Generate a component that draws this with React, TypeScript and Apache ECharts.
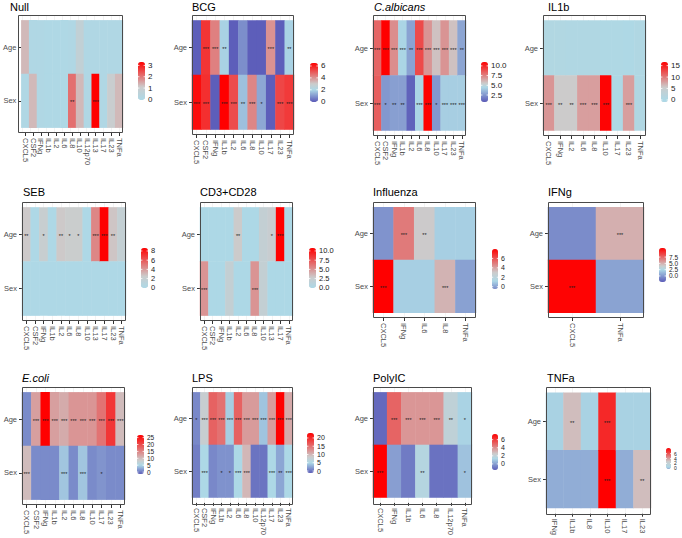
import React, { useEffect, useRef } from "react";
import * as echarts from "echarts";

// ---------------- DATA ----------------
const ROWS = ["Sex", "Age"];

// Null
const nullCats = ["CXCL5", "CSF2", "IFNg", "IL1b", "IL2", "IL6", "IL8", "IL10", "IL12p70", "IL13", "IL17", "IL23", "TNFa"];
const nullAge = [1.3, 0.1, 0.1, 0.05, 0.05, 0.05, 0.1, 0.7, 0.1, 0.1, 0.1, 0.1, 0.1];
const nullSex = [0.1, 1.3, 0.1, 0.05, 0.05, 0.05, 2.1, 1.3, 0.1, 3.3, 0.1, 1.0, 1.3];
const nullAgeSig = ["", "", "", "", "", "", "", "", "", "", "", "", ""];
const nullSexSig = ["", "", "", "", "", "", "**", "", "", "***", "", "", ""];
const nullRange = [-0.05, 3.3];
const nullTicks = ["0", "1", "2", "3"];

// BCG
const bcgCats = ["CXCL5", "CSF2", "IFNg", "IL1b", "IL2", "IL6", "IL8", "IL10", "IL17", "IL23", "TNFa"];
const bcgAge = [0, 5.6, 4.3, 1.9, 0, 0.8, 0, 0, 4.0, 0, 1.9];
const bcgSex = [6.3, 5.7, 0, 6.5, 5.2, 1.6, 4.2, 1.2, 0, 5.3, 5.5];
const bcgAgeSig = ["", "***", "***", "**", "", "", "", "", "***", "", "**"];
const bcgSexSig = ["***", "***", "", "***", "***", "**", "***", "*", "", "***", "***"];
const bcgRange = [-0.05, 6.5];
const bcgTicks = ["0", "2", "4", "6"];

// C.albicans
const calbCats = ["CXCL5", "CSF2", "IFNg", "IL1b", "IL2", "IL6", "IL8", "IL10", "IL17", "IL23", "TNFa"];
const calbAge = [8.3, 11.0, 7.2, 4.4, 2.9, 9.0, 7.0, 5.8, 7.0, 5.8, 3.0];
const calbSex = [8.5, 2.6, 2.8, 2.8, 1.0, 4.4, 11.0, 2.6, 4.2, 4.2, 4.2];
const calbAgeSig = ["***", "***", "***", "***", "**", "***", "***", "***", "***", "***", "**"];
const calbSexSig = ["***", "*", "**", "**", "", "***", "***", "*", "***", "***", "***"];
const calbRange = [0.7, 11.0];
const calbTicks = ["2.5", "5.0", "7.5", "10.0"];

// IL1b
const il1bCats = ["CXCL5", "IFNg", "IL2", "IL6", "IL8", "IL10", "IL17", "IL23", "TNFa"];
const il1bAge = [0.7, 0.7, 0.6, 0.6, 0.6, 0.4, 0.4, 0.3, 0.6];
const il1bSex = [8.5, 5.5, 5.5, 8.0, 8.0, 16.4, 0.3, 8.0, 0.6];
const il1bAgeSig = ["", "", "", "", "", "", "", "", ""];
const il1bSexSig = ["***", "**", "**", "***", "***", "***", "", "***", ""];
const il1bRange = [-0.9, 16.6];
const il1bTicks = ["0", "5", "10", "15"];

// SEB
const sebCats = ["CXCL5", "CSF2", "IFNg", "IL1b", "IL2", "IL6", "IL8", "IL10", "IL13", "IL17", "IL23", "TNFa"];
const sebAge = [2.6, 0, 2.1, 0, 2.6, 2.4, 2.4, 0, 4.6, 8.6, 2.7, 1.8];
const sebSex = [0, 0, 0, 0, 0, 0, 0, 0, 0, 0, 0, 0];
const sebAgeSig = ["**", "", "*", "", "**", "*", "*", "", "***", "***", "**", ""];
const sebSexSig = ["", "", "", "", "", "", "", "", "", "", "", ""];
const sebRange = [-0.05, 8.65];
const sebTicks = ["0", "2", "4", "6", "8"];

// CD3+CD28
const cdCats = ["CXCL5", "CSF2", "IFNg", "IL1b", "IL2", "IL6", "IL8", "IL10", "IL13", "IL17", "TNFa"];
const cdAge = [0, 0, 0, 0, 2.8, 0, 0, 2.0, 2.4, 10.8, 0];
const cdSex = [5.0, 0, 0, 2.0, 0, 0, 5.0, 2.0, 0, 0, 0];
const cdAgeSig = ["", "", "", "", "**", "", "", "", "*", "***", ""];
const cdSexSig = ["***", "", "", "", "", "", "***", "", "", "", ""];
const cdRange = [-0.05, 10.8];
const cdTicks = ["0.0", "2.5", "5.0", "7.5", "10.0"];

// Influenza
const fluCats = ["CXCL5", "IFNg", "IL6", "IL8", "TNFa"];
const fluAge = [-0.3, 5.0, 3.0, 1.0, 1.0];
const fluSex = [8.0, 1.0, 1.0, 3.6, 0.0];
const fluAgeSig = ["", "***", "**", "", ""];
const fluSexSig = ["***", "", "", "***", ""];
const fluRange = [-0.5, 8.0];
const fluTicks = ["0", "2", "4", "6"];

// IFNg
const ifngCats = ["CXCL5", "TNFa"];
const ifngAge = [-0.5, 5.0];
const ifngSex = [11.0, 0.4];
const ifngAgeSig = ["", "***"];
const ifngSexSig = ["***", ""];
const ifngRange = [-2.4, 11.1];
const ifngTicks = ["0.0", "2.5", "5.0", "7.5"];

// E.coli
const ecoliCats = ["CXCL5", "CSF2", "IFNg", "IL1b", "IL2", "IL6", "IL8", "IL10", "IL17", "IL23", "TNFa"];
const ecoliAge = [1.0, 12.5, 26.9, 12.5, 11.5, 13.5, 13.5, 13.5, 16.5, 22.0, 10.0];
const ecoliSex = [10.0, 1.0, 1.0, 1.0, 4.0, 1.0, 4.0, 1.0, 1.5, 1.0, 1.0];
const ecoliAgeSig = ["", "***", "***", "***", "***", "***", "***", "***", "***", "***", "***"];
const ecoliSexSig = ["***", "", "", "", "***", "", "***", "", "*", "", ""];
const ecoliRange = [-1.4, 26.9];
const ecoliTicks = ["0", "5", "10", "15", "20", "25"];

// LPS
const lpsCats = ["CXCL5", "CSF2", "IFNg", "IL1b", "IL2", "IL6", "IL8", "IL10", "IL12p70", "IL17", "IL23", "TNFa"];
const lpsAge = [1.0, 8.0, 16.0, 15.0, 4.5, 16.0, 12.0, 12.0, 4.0, 12.0, 23.0, 11.0];
const lpsSex = [0.5, 5.0, 1.0, 1.5, 1.5, 5.0, 10.0, 0.0, 0.0, 5.0, 2.5, 5.0];
const lpsAgeSig = ["*", "***", "***", "***", "***", "***", "***", "***", "***", "***", "***", "***"];
const lpsSexSig = ["", "***", "", "*", "*", "***", "***", "", "", "***", "**", "***"];
const lpsRange = [-1.2, 23.0];
const lpsTicks = ["0", "5", "10", "15", "20"];

// PolyIC
const polyCats = ["CXCL5", "IFNg", "IL1b", "IL6", "IL8", "IL12p70", "TNFa"];
const polyAge = [-1.2, 5.0, 3.8, 3.8, 3.8, 2.0, 1.2];
const polySex = [7.4, 0.0, -0.8, 1.6, -1.0, -1.0, 0.8];
const polyAgeSig = ["", "***", "***", "***", "***", "**", "*"];
const polySexSig = ["***", "", "", "**", "", "", "*"];
const polyRange = [-1.5, 7.4];
const polyTicks = ["0", "2", "4", "6"];

// TNFa
const tnfCats = ["IFNg", "IL1b", "IL8", "IL10", "IL17", "IL23"];
const tnfAge = [0.4, 3.2, 0.4, 7.2, 0.4, 0.4];
const tnfSex = [-0.2, -0.2, -0.2, 8.3, -0.2, 3.2];
const tnfAgeSig = ["", "**", "", "***", "", ""];
const tnfSexSig = ["", "", "", "***", "", "**"];
const tnfRange = [-0.25, 8.3];
const tnfTicks = ["0", "2", "4", "6"];

const PANELS = [
  { title: "Null", italic: false, cats: nullCats, age: nullAge, sex: nullSex, ageSig: nullAgeSig, sexSig: nullSexSig, range: nullRange, ticks: nullTicks },
  { title: "BCG", italic: false, cats: bcgCats, age: bcgAge, sex: bcgSex, ageSig: bcgAgeSig, sexSig: bcgSexSig, range: bcgRange, ticks: bcgTicks },
  { title: "C.albicans", italic: true, cats: calbCats, age: calbAge, sex: calbSex, ageSig: calbAgeSig, sexSig: calbSexSig, range: calbRange, ticks: calbTicks },
  { title: "IL1b", italic: false, cats: il1bCats, age: il1bAge, sex: il1bSex, ageSig: il1bAgeSig, sexSig: il1bSexSig, range: il1bRange, ticks: il1bTicks },
  { title: "SEB", italic: false, cats: sebCats, age: sebAge, sex: sebSex, ageSig: sebAgeSig, sexSig: sebSexSig, range: sebRange, ticks: sebTicks },
  { title: "CD3+CD28", italic: false, cats: cdCats, age: cdAge, sex: cdSex, ageSig: cdAgeSig, sexSig: cdSexSig, range: cdRange, ticks: cdTicks },
  { title: "Influenza", italic: false, cats: fluCats, age: fluAge, sex: fluSex, ageSig: fluAgeSig, sexSig: fluSexSig, range: fluRange, ticks: fluTicks },
  { title: "IFNg", italic: false, cats: ifngCats, age: ifngAge, sex: ifngSex, ageSig: ifngAgeSig, sexSig: ifngSexSig, range: ifngRange, ticks: ifngTicks },
  { title: "E.coli", italic: true, cats: ecoliCats, age: ecoliAge, sex: ecoliSex, ageSig: ecoliAgeSig, sexSig: ecoliSexSig, range: ecoliRange, ticks: ecoliTicks },
  { title: "LPS", italic: false, cats: lpsCats, age: lpsAge, sex: lpsSex, ageSig: lpsAgeSig, sexSig: lpsSexSig, range: lpsRange, ticks: lpsTicks },
  { title: "PolyIC", italic: false, cats: polyCats, age: polyAge, sex: polySex, ageSig: polyAgeSig, sexSig: polySexSig, range: polyRange, ticks: polyTicks },
  { title: "TNFa", italic: false, cats: tnfCats, age: tnfAge, sex: tnfSex, ageSig: tnfAgeSig, sexSig: tnfSexSig, range: tnfRange, ticks: tnfTicks },
];

// ---------------- STYLE / LAYOUT ----------------
const BLUE = "#5c5cb9";
const LB = "#add8e6";
const GREY = "#cccccc";
const RED = "#ff0000";

const STOPS: [number, string][][] = [
  [[0, LB], [1.1, GREY], [3.3, RED]],
  [[0, BLUE], [2, LB], [3, GREY], [6.5, RED]],
  [[0.8, BLUE], [4.5, LB], [5.5, GREY], [11, RED]],
  [[0, LB], [5.5, GREY], [16.6, RED]],
  [[0, LB], [2.5, GREY], [8.65, RED]],
  [[0, LB], [2.8, GREY], [10.8, RED]],
  [[-1.5, BLUE], [1.2, LB], [3, GREY], [8, RED]],
  [[-2.4, BLUE], [2.5, LB], [4, GREY], [11.1, RED]],
  [[-1.4, BLUE], [5, LB], [8.5, GREY], [26.9, RED]],
  [[-1.2, BLUE], [5, LB], [8.5, GREY], [23, RED]],
  [[-1.5, BLUE], [1.3, LB], [2.5, GREY], [7.4, RED]],
  [[-1.5, BLUE], [0.5, LB], [2.8, GREY], [8.3, RED]],
];

// frame [l,t,r,b], title [x,y], bar [x,y,w,h], legend font size
const LAYOUT = [
  { frame: [18, 15, 123, 133], title: [10, 1], bar: [138, 62, 7, 38], lf: 8 },
  { frame: [192, 15, 294, 135], title: [192, 1], bar: [310, 63, 8, 39], lf: 8 },
  { frame: [373, 15, 466, 136], title: [374, 1], bar: [481, 62, 7, 40], lf: 8 },
  { frame: [543, 15, 646, 136], title: [548, 1], bar: [661, 62, 7, 40], lf: 8 },
  { frame: [22, 202, 126, 321], title: [23, 186], bar: [141, 248, 7, 40], lf: 7.5 },
  { frame: [200, 202, 293, 321], title: [200, 186], bar: [309, 248, 7, 40], lf: 7.5 },
  { frame: [373, 202, 476, 318], title: [373, 186], bar: [492, 249, 6, 40], lf: 7 },
  { frame: [548, 202, 644, 318], title: [548, 186], bar: [659, 248, 7, 34], lf: 6.5 },
  { frame: [22, 387, 125, 505], title: [22, 372], bar: [137, 435, 7, 39], lf: 6.5 },
  { frame: [192, 387, 293, 505], title: [192, 372], bar: [307, 433, 7, 40], lf: 7 },
  { frame: [373, 387, 472, 505], title: [373, 372], bar: [492, 434, 6, 36], lf: 7 },
  { frame: [546, 387, 651, 515], title: [547, 372], bar: [666, 448, 5, 21], lf: 5 },
];

const FONT = "Liberation Sans, Arial, Helvetica, sans-serif";

function hexToRgb(h: string) {
  const n = parseInt(h.slice(1), 16);
  return [(n >> 16) & 255, (n >> 8) & 255, n & 255];
}
function colorAt(stops: [number, string][], v: number) {
  if (v <= stops[0][0]) return stops[0][1];
  for (let k = 1; k < stops.length; k++) {
    if (v <= stops[k][0]) {
      const [v0, c0] = stops[k - 1];
      const [v1, c1] = stops[k];
      const t = (v - v0) / (v1 - v0);
      const a = hexToRgb(c0), b = hexToRgb(c1);
      const m = a.map((x, i) => Math.round(x + (b[i] - x) * t));
      return `rgb(${m[0]},${m[1]},${m[2]})`;
    }
  }
  return stops[stops.length - 1][1];
}
function palette(stops: [number, string][], min: number, max: number) {
  const n = 48;
  const out: string[] = [];
  for (let k = 0; k < n; k++) out.push(colorAt(stops, min + ((max - min) * k) / (n - 1)));
  return out;
}

function buildOption() {
  const grid: any[] = [], xAxis: any[] = [], yAxis: any[] = [], series: any[] = [];
  const visualMap: any[] = [], title: any[] = [], graphic: any[] = [];

  PANELS.forEach((p, i) => {
    const L = LAYOUT[i];
    const [l, t, r, b] = L.frame;
    const w = r - l, h = b - t, pad = h / 22;
    grid.push({ left: l, top: t, width: w, height: h, show: false });
    grid.push({ left: l, top: t + pad, width: w, height: h - 2 * pad, show: false });

    xAxis.push({
      gridIndex: 2 * i, type: "category", data: p.cats,
      axisLine: { show: false }, axisTick: { show: false }, axisLabel: { show: false, interval: 0 },
      splitLine: { show: true, interval: 0, alignWithLabel: true, lineStyle: { color: "#ebebeb", width: 0.6 } },
    });
    yAxis.push({ gridIndex: 2 * i, type: "category", data: ROWS, show: false });

    xAxis.push({
      gridIndex: 2 * i + 1, type: "category", data: p.cats, position: "bottom", offset: pad,
      axisLine: { show: false },
      axisTick: { show: true, interval: 0, alignWithLabel: true, length: 3, lineStyle: { color: "#333333", width: 1 } },
      axisLabel: { interval: 0, rotate: -90, margin: 5, fontSize: 7.5, color: "#4d4d4d", fontFamily: FONT },
      splitLine: { show: false },
    });
    yAxis.push({
      gridIndex: 2 * i + 1, type: "category", data: ROWS,
      axisLine: { show: false },
      axisTick: { show: true, alignWithLabel: true, length: 3, lineStyle: { color: "#333333", width: 1 } },
      axisLabel: { margin: 5, fontSize: 7.5, color: "#4d4d4d", fontFamily: FONT },
      splitLine: { show: false },
    });

    const data: number[][] = [];
    const sigs: string[] = [];
    p.cats.forEach((_, j) => {
      data.push([j, 1, p.age[j]]);
      sigs.push(p.ageSig[j]);
      data.push([j, 0, p.sex[j]]);
      sigs.push(p.sexSig[j]);
    });
    series.push({
      type: "heatmap", xAxisIndex: 2 * i + 1, yAxisIndex: 2 * i + 1, data,
      itemStyle: { borderWidth: 0 },
      label: {
        show: true, formatter: (q: any) => sigs[q.dataIndex], fontSize: 5.5, color: "#1a1a1a",
        fontFamily: FONT, offset: [0, 1.5],
      },
      emphasis: { disabled: true },
    });

    const [mn, mx] = p.range;
    const [bx, by, bw, bh] = L.bar;
    visualMap.push({
      type: "continuous", seriesIndex: i, dimension: 2, min: mn, max: mx,
      inRange: { color: palette(STOPS[i], mn, mx) },
      show: true, calculable: false, hoverLink: false, padding: 0,
      left: bx, top: by, itemWidth: bw, itemHeight: bh, text: null,
    });

    p.ticks.forEach((s) => {
      const v = Number(s);
      const y = by + bh - ((v - mn) / (mx - mn)) * bh;
      graphic.push({
        type: "text", x: bx + bw + 3, y, z: 20,
        style: { text: s, fontSize: L.lf, fill: "#1a1a1a", fontFamily: FONT, verticalAlign: "middle", align: "left" },
      });
      graphic.push({ type: "line", z: 20, shape: { x1: bx, y1: y, x2: bx + bw * 0.2, y2: y }, style: { stroke: "#ffffff", lineWidth: 0.8 } });
      graphic.push({ type: "line", z: 20, shape: { x1: bx + bw * 0.8, y1: y, x2: bx + bw, y2: y }, style: { stroke: "#ffffff", lineWidth: 0.8 } });
    });

    graphic.push({
      type: "rect", z: 30, shape: { x: l + 0.5, y: t + 0.5, width: w - 1, height: h - 1 },
      style: { fill: "none", stroke: "#4a4a4a", lineWidth: 1 },
    });

    title.push({
      text: p.title, left: L.title[0], top: L.title[1], padding: 0,
      textStyle: { fontSize: 11, fontWeight: "normal", fontStyle: p.italic ? "italic" : "normal", color: "#000", fontFamily: FONT },
    });
  });

  return {
    animation: false,
    backgroundColor: "#ffffff",
    textStyle: { fontFamily: FONT },
    title, grid, xAxis, yAxis, series, visualMap, graphic,
  };
}

export default function App() {
  const ref = useRef<HTMLDivElement>(null);
  useEffect(() => {
    const chart = echarts.init(ref.current as HTMLDivElement, undefined, { renderer: "svg" });
    chart.setOption(buildOption() as any);
    return () => chart.dispose();
  }, []);
  return (
    <div
      ref={ref}
      style={{ position: "absolute", left: 0, top: 0, width: 682, height: 538, background: "#fff" }}
    />
  );
}
